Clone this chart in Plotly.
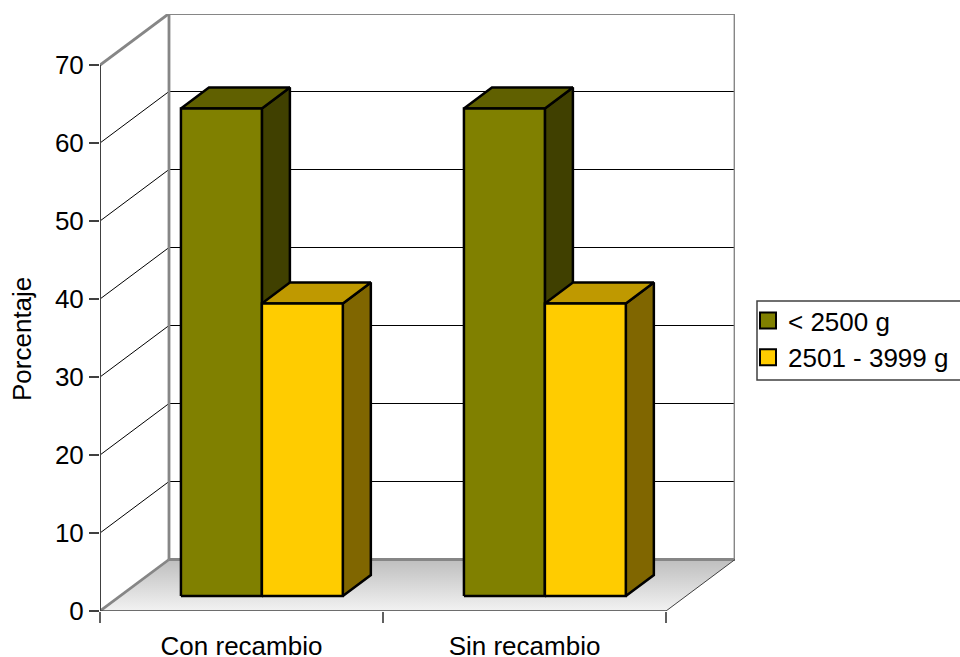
import plotly.graph_objects as go

# Data
categories = ["Con recambio", "Sin recambio"]
series_names = ["< 2500 g", "2501 - 3999 g"]
series_values = [[62.5, 62.5], [37.5, 37.5]]
front_colors = ["#808000", "#FFCC00"]
top_colors = ["#606000", "#BF9900"]
side_colors = ["#404000", "#806600"]
y_ticks = [0, 10, 20, 30, 40, 50, 60, 70]

# Oblique projection: depth of the chart box and of each bar, in axis units
WALL_DX, WALL_DY = 0.2438, 6.603
BAR_DX, BAR_DY = 0.099, 2.69
BAR_LEFT, BAR_WIDTH, BAR_BASE = 0.286, 0.286, 1.923
WALL_GREY = "#868686"
FONT = "Liberation Sans"
FONT_SIZE = 26

# Plot rectangle on the page
LEFT, RIGHT, TOP, BOTTOM = 100, 735, 14, 611
PLOT_W, PLOT_H = RIGHT - LEFT, BOTTOM - TOP
Y_MAX = 76.54

fig = go.Figure()


def polyline(xs, ys, color, width):
    fig.add_trace(go.Scatter(x=xs, y=ys, mode="lines", showlegend=False, hoverinfo="skip",
                             cliponaxis=False, line=dict(color=color, width=width)))


def polygon(xs, ys, fill, edge="#000000", width=2.5):
    fig.add_trace(go.Scatter(x=xs + xs[:1], y=ys + ys[:1], mode="lines", fill="toself",
                             fillcolor=fill, showlegend=False, hoverinfo="skip", cliponaxis=False,
                             line=dict(color=edge, width=width, shape="linear")))


n = len(categories)
top = y_ticks[-1]

# Floor with its back-to-front shading
fig.add_trace(go.Scatter(
    x=[0, n, n + WALL_DX, WALL_DX, 0], y=[0, 0, WALL_DY, WALL_DY, 0],
    mode="lines", fill="toself", showlegend=False, hoverinfo="skip", cliponaxis=False,
    line=dict(width=0),
    fillgradient=dict(type="vertical", start=WALL_DY, stop=0,
                      colorscale=[[0, "#BEBEBE"], [1, "#F2F2F2"]]),
))

# Gridlines across the side and back walls
for v in y_ticks[1:-1]:
    polyline([0, WALL_DX, n + WALL_DX], [v, v + WALL_DY, v + WALL_DY], "#000000", 1)

# Back and side wall outline
polyline([WALL_DX, WALL_DX], [WALL_DY, top + WALL_DY], WALL_GREY, 2.8)
polyline([n + WALL_DX, n + WALL_DX], [WALL_DY, top + WALL_DY], WALL_GREY, 2.8)
polyline([WALL_DX, n + WALL_DX], [top + WALL_DY, top + WALL_DY], WALL_GREY, 2.8)
polyline([WALL_DX, n + WALL_DX], [WALL_DY, WALL_DY], WALL_GREY, 2.8)
polyline([0, WALL_DX], [top, top + WALL_DY], WALL_GREY, 2.8)
polyline([0, WALL_DX], [0, WALL_DY], WALL_GREY, 2.8)
polyline([n, n + WALL_DX], [0, WALL_DY], "#404040", 1)
polyline([0, n], [0, 0], "#404040", 1.5)
polyline([0, 0], [0, top], "#404040", 2)

# Bars: side, top and front faces, painted back to front
for c in range(n):
    for s in range(len(series_names)):
        x0 = c + BAR_LEFT + s * BAR_WIDTH
        x1 = x0 + BAR_WIDTH
        y0 = BAR_BASE
        y1 = BAR_BASE + series_values[s][c]
        polygon([x1, x1 + BAR_DX, x1 + BAR_DX, x1],
                [y0, y0 + BAR_DY, y1 + BAR_DY, y1], side_colors[s])
        polygon([x0, x1, x1 + BAR_DX, x0 + BAR_DX],
                [y1, y1, y1 + BAR_DY, y1 + BAR_DY], top_colors[s])
        polygon([x0, x1, x1, x0], [y0, y0, y1, y1], front_colors[s])

# Legend keys
for s, name in enumerate(series_names):
    fig.add_trace(go.Scatter(x=[None], y=[None], mode="markers", name=name,
                             marker=dict(symbol="square", size=16, color=front_colors[s],
                                         line=dict(color="#000000", width=2))))

fig.update_layout(
    width=960, height=657,
    margin=dict(l=LEFT, r=960 - RIGHT, t=TOP, b=657 - BOTTOM, autoexpand=False),
    paper_bgcolor="#FFFFFF", plot_bgcolor="#FFFFFF",
    font=dict(family=FONT, size=FONT_SIZE, color="#000000"),
    showlegend=True,
    legend=dict(x=(748 - LEFT) / PLOT_W, y=(BOTTOM - 297) / PLOT_H, xanchor="left", yanchor="top",
                bgcolor="rgba(0,0,0,0)", borderwidth=0,
                font=dict(family=FONT, size=FONT_SIZE), tracegroupgap=0, itemclick=False),
    # Legend frame, running off the right-hand edge of the page
    shapes=[dict(type="rect", xref="paper", yref="paper",
                 x0=(757 - LEFT) / PLOT_W, x1=(975 - LEFT) / PLOT_W,
                 y0=(BOTTOM - 380) / PLOT_H, y1=(BOTTOM - 301) / PLOT_H,
                 line=dict(color="#404040", width=1.5), fillcolor="#FFFFFF", layer="below")],
    # Axis title, centred on the front height of the value axis
    annotations=[dict(text="Porcentaje", xref="paper", yref="paper",
                      x=(22 - LEFT) / PLOT_W, y=(BOTTOM - 339) / PLOT_H,
                      xanchor="center", yanchor="middle", textangle=-90, showarrow=False,
                      font=dict(family=FONT, size=FONT_SIZE))],
)
fig.update_xaxes(
    range=[0, n + WALL_DX], showgrid=False, zeroline=False, showline=False, automargin=False,
    tickmode="array", tickvals=[i + 0.5 for i in range(n)], ticktext=categories,
    ticks="outside", ticklen=12, tickcolor="rgba(0,0,0,0)",
    tickfont=dict(family=FONT, size=FONT_SIZE),
    minor=dict(tickmode="array", tickvals=list(range(n + 1)), ticks="outside", ticklen=11,
               tickcolor="#606060", tickwidth=1.5, showgrid=False),
)
fig.update_yaxes(
    range=[0, Y_MAX], showgrid=False, zeroline=False, showline=False, automargin=False,
    tickmode="array", tickvals=y_ticks, ticks="outside", ticklen=10,
    tickcolor="#404040", tickwidth=1.5,
    tickfont=dict(family=FONT, size=FONT_SIZE),
)

fig.write_html("out.html")
